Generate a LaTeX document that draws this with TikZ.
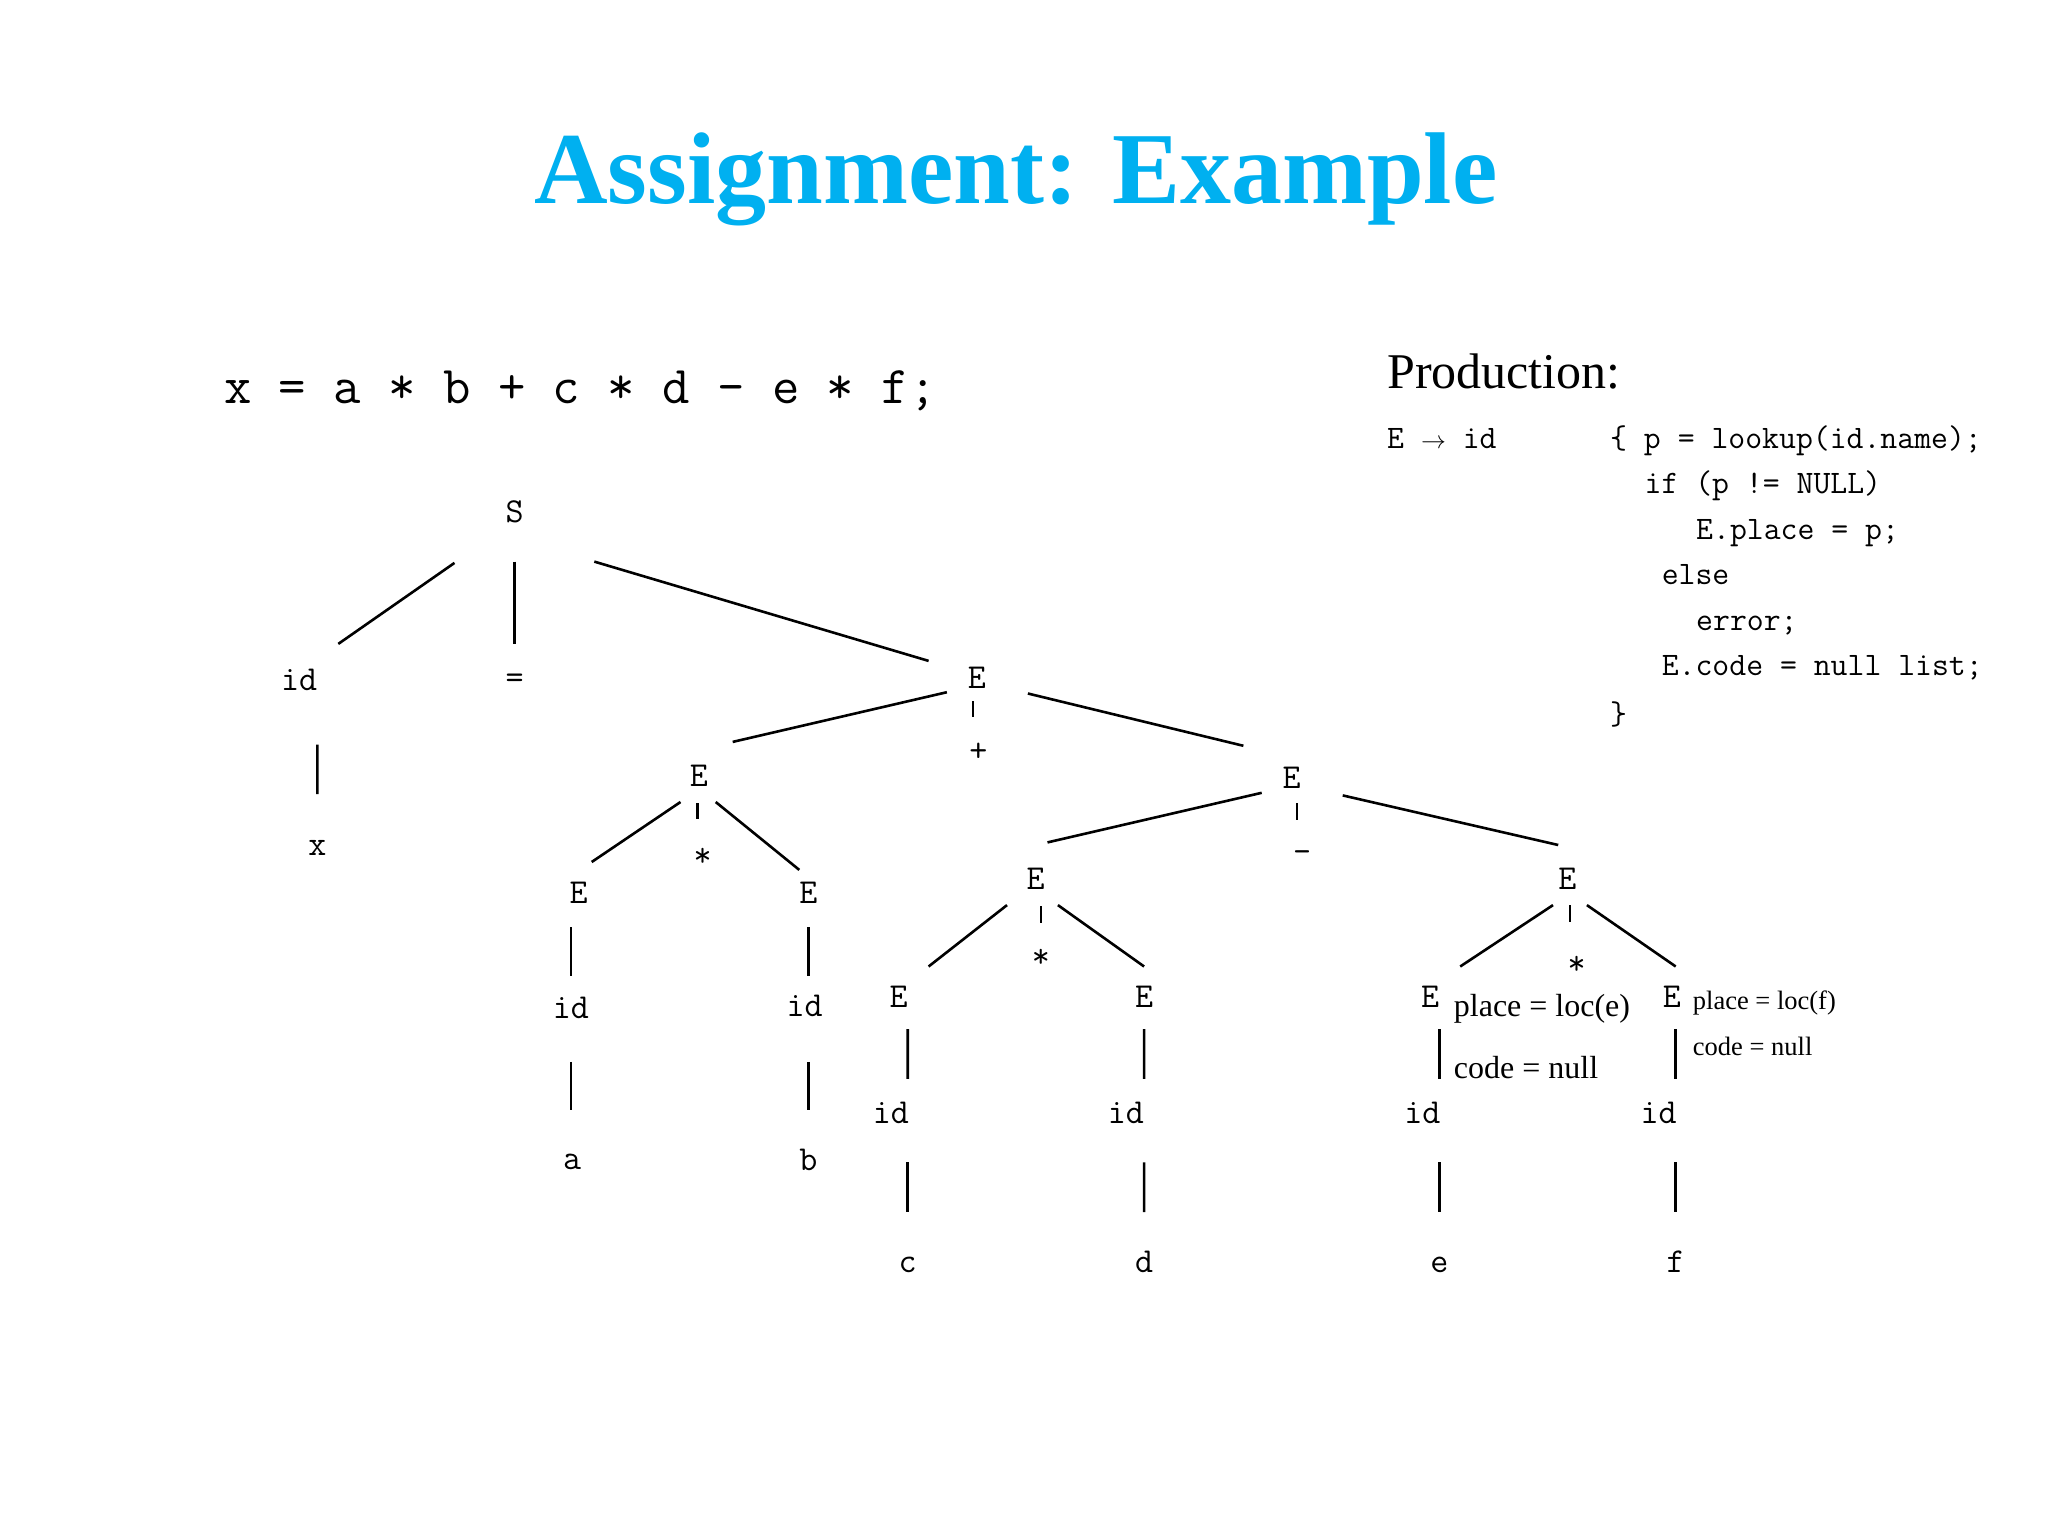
\documentclass[tikz,border=0pt]{standalone}
\usepackage{fontspec}
\setmainfont{Liberation Serif}
\definecolor{titleblue}{RGB}{0,176,240}
\tikzset{
  lbl/.style={anchor=base, inner sep=0pt, font=\ttfamily\fontsize{35}{35}\selectfont},
  edge/.style={line width=2.6pt, black},
  code/.style={anchor=base west, inner sep=0pt, font=\ttfamily\fontsize{32.8}{32.8}\selectfont},
  note/.style={anchor=base west, inner sep=0pt},
}
\newcommand\lnk[4]{\draw[edge] ([shift={(#2)}]#1.base) -- ([shift={(#4)}]#3.base);}
\begin{document}
\begin{tikzpicture}[x=1pt,y=-1pt]
\useasboundingbox[fill=white] (0,0) rectangle (2048,1536);
% title
\node[anchor=base, inner sep=0pt, text=titleblue, font=\bfseries\fontsize{102}{102}\selectfont] (title) at (1016,203) {Assignment: Example};
% expression
\node[anchor=base west, inner sep=0pt, font=\ttfamily\fontsize{53.2}{53.2}\selectfont] (expr) at (224,403.6) {x = a * b + c * d - e * f;};
% production
\node[note, font=\fontsize{50}{50}\selectfont] (prod) at (1387,388) {Production:};
\node[code] (c0) at (1387,448) {E $\rightarrow$ id};
\node[code] (c1) at (1610,448) {\{ p = lookup(id.name);};
\node[code] (c2) at (1644.4,493.5) {if (p != NULL)};
\node[code] (c3) at (1696,539) {E.place = p;};
\node[code] (c4) at (1661.6,584.5) {else};
\node[code] (c5) at (1696,630) {error;};
\node[code] (c6) at (1661.6,675.5) {E.code = null list;};
\node[code] (c7) at (1610,724) {\}};
% tree labels
\node[lbl] (S) at (514.6,522.4) {S};
\node[lbl] (id0) at (299.1,690.9) {id};
\node[lbl] (eq) at (514.6,688.3) {=};
\node[lbl] (E1) at (977,688.3) {E};
\node[lbl] (nx) at (317.4,855.5) {x};
\node[lbl] (E2) at (698.8,786.3) {E};
\node[lbl] (plus) at (978.3,761.5) {+};
\node[lbl] (E3) at (1291.7,788.9) {E};
\node[lbl] (Ea) at (578.6,903.8) {E};
\node[lbl] (st1) at (702.7,866) {*};
\node[lbl] (Eb) at (808.5,903.8) {E};
\node[lbl] (ida) at (570.8,1018.8) {id};
\node[lbl] (idb) at (804.6,1016.2) {id};
\node[lbl] (na) at (572.1,1169) {a};
\node[lbl] (nb) at (808.5,1170.3) {b};
\node[lbl] (Ecd) at (1035.7,889.5) {E};
\node[lbl] (mi) at (1302.2,862) {-};
\node[lbl] (Eef) at (1567.3,889.5) {E};
\node[lbl] (Ec) at (898.6,1007) {E};
\node[lbl] (st2) at (1041,967.8) {*};
\node[lbl] (Ed) at (1144.1,1007) {E};
\node[lbl] (Ee) at (1430.2,1007) {E};
\node[lbl] (st3) at (1576.5,974.4) {*};
\node[lbl] (Ef) at (1671.8,1007) {E};
\node[lbl] (idc) at (890.8,1123.2) {id};
\node[lbl] (idd) at (1125.9,1123.2) {id};
\node[lbl] (ide) at (1422.3,1123.2) {id};
\node[lbl] (idf) at (1658.7,1123.2) {id};
\node[lbl] (nc) at (907.7,1272) {c};
\node[lbl] (nd) at (1144.1,1272) {d};
\node[lbl] (ne) at (1439.3,1272) {e};
\node[lbl] (nf) at (1675.7,1272) {f};
% annotations
\node[note, font=\fontsize{32}{32}\selectfont] (pe) at (1453.7,1016) {place = loc(e)};
\node[note, font=\fontsize{32}{32}\selectfont] (ce) at (1453.7,1078.8) {code = null};
\node[note, font=\fontsize{26.5}{26.5}\selectfont] (pf) at (1692.7,1009) {place = loc(f)};
\node[note, font=\fontsize{26.5}{26.5}\selectfont] (cf) at (1692.7,1055.3) {code = null};
% connectors
\lnk{S}{-60.1,40.5}{id0}{39.2,-47}
\lnk{S}{0,39.2}{eq}{0,-44.4}
\lnk{S}{79.7,39.2}{E1}{-48.4,-27.4}
\lnk{id0}{18.3,53.6}{nx}{0,-61.4}
\lnk{E1}{-30.1,3.9}{E2}{33.9,-44.4}
\lnk{E1}{-4,13.1}{plus}{-5.3,-44.5}
\lnk{E1}{50.9,5.2}{E3}{-48.3,-43.1}
\lnk{E2}{-18.3,15.7}{Ea}{13.1,-41.8}
\lnk{E2}{-1.3,17}{st1}{-5.2,-47.1}
\lnk{E2}{16.9,15.7}{Eb}{-9.2,-33.9}
\lnk{Ea}{-7.8,23.5}{ida}{0,-43.1}
\lnk{Eb}{0,23.5}{idb}{3.9,-40.5}
\lnk{ida}{0,43.1}{na}{-1.3,-58.8}
\lnk{idb}{3.9,45.7}{nb}{0,-60.1}
\lnk{E3}{-30,3.9}{Ecd}{11.8,-47.1}
\lnk{E3}{5.3,14.4}{mi}{-5.2,-41.8}
\lnk{E3}{51,6.5}{Eef}{-9.1,-44.5}
\lnk{Ecd}{-28.7,15.6}{Ec}{30,-40.5}
\lnk{Ecd}{5.3,16.9}{st2}{0,-44.4}
\lnk{Ecd}{22.2,15.6}{Ed}{0,-40.5}
\lnk{Eef}{-14.3,15.6}{Ee}{30,-40.5}
\lnk{Eef}{2.7,15.6}{st3}{-6.5,-52.3}
\lnk{Eef}{19.6,15.6}{Ef}{3.9,-40.5}
\lnk{Ec}{9.1,22.2}{idc}{16.9,-44.4}
\lnk{Ed}{0,22.2}{idd}{18.2,-44.4}
\lnk{Ee}{9.1,22.2}{ide}{17,-44.4}
\lnk{Ef}{3.9,22.2}{idf}{17,-44.4}
\lnk{idc}{16.9,39.2}{nc}{0,-60}
\lnk{idd}{18.2,39.2}{nd}{0,-60}
\lnk{ide}{17,39.2}{ne}{0,-60}
\lnk{idf}{17,39.2}{nf}{0,-60}
\end{tikzpicture}
\end{document}
